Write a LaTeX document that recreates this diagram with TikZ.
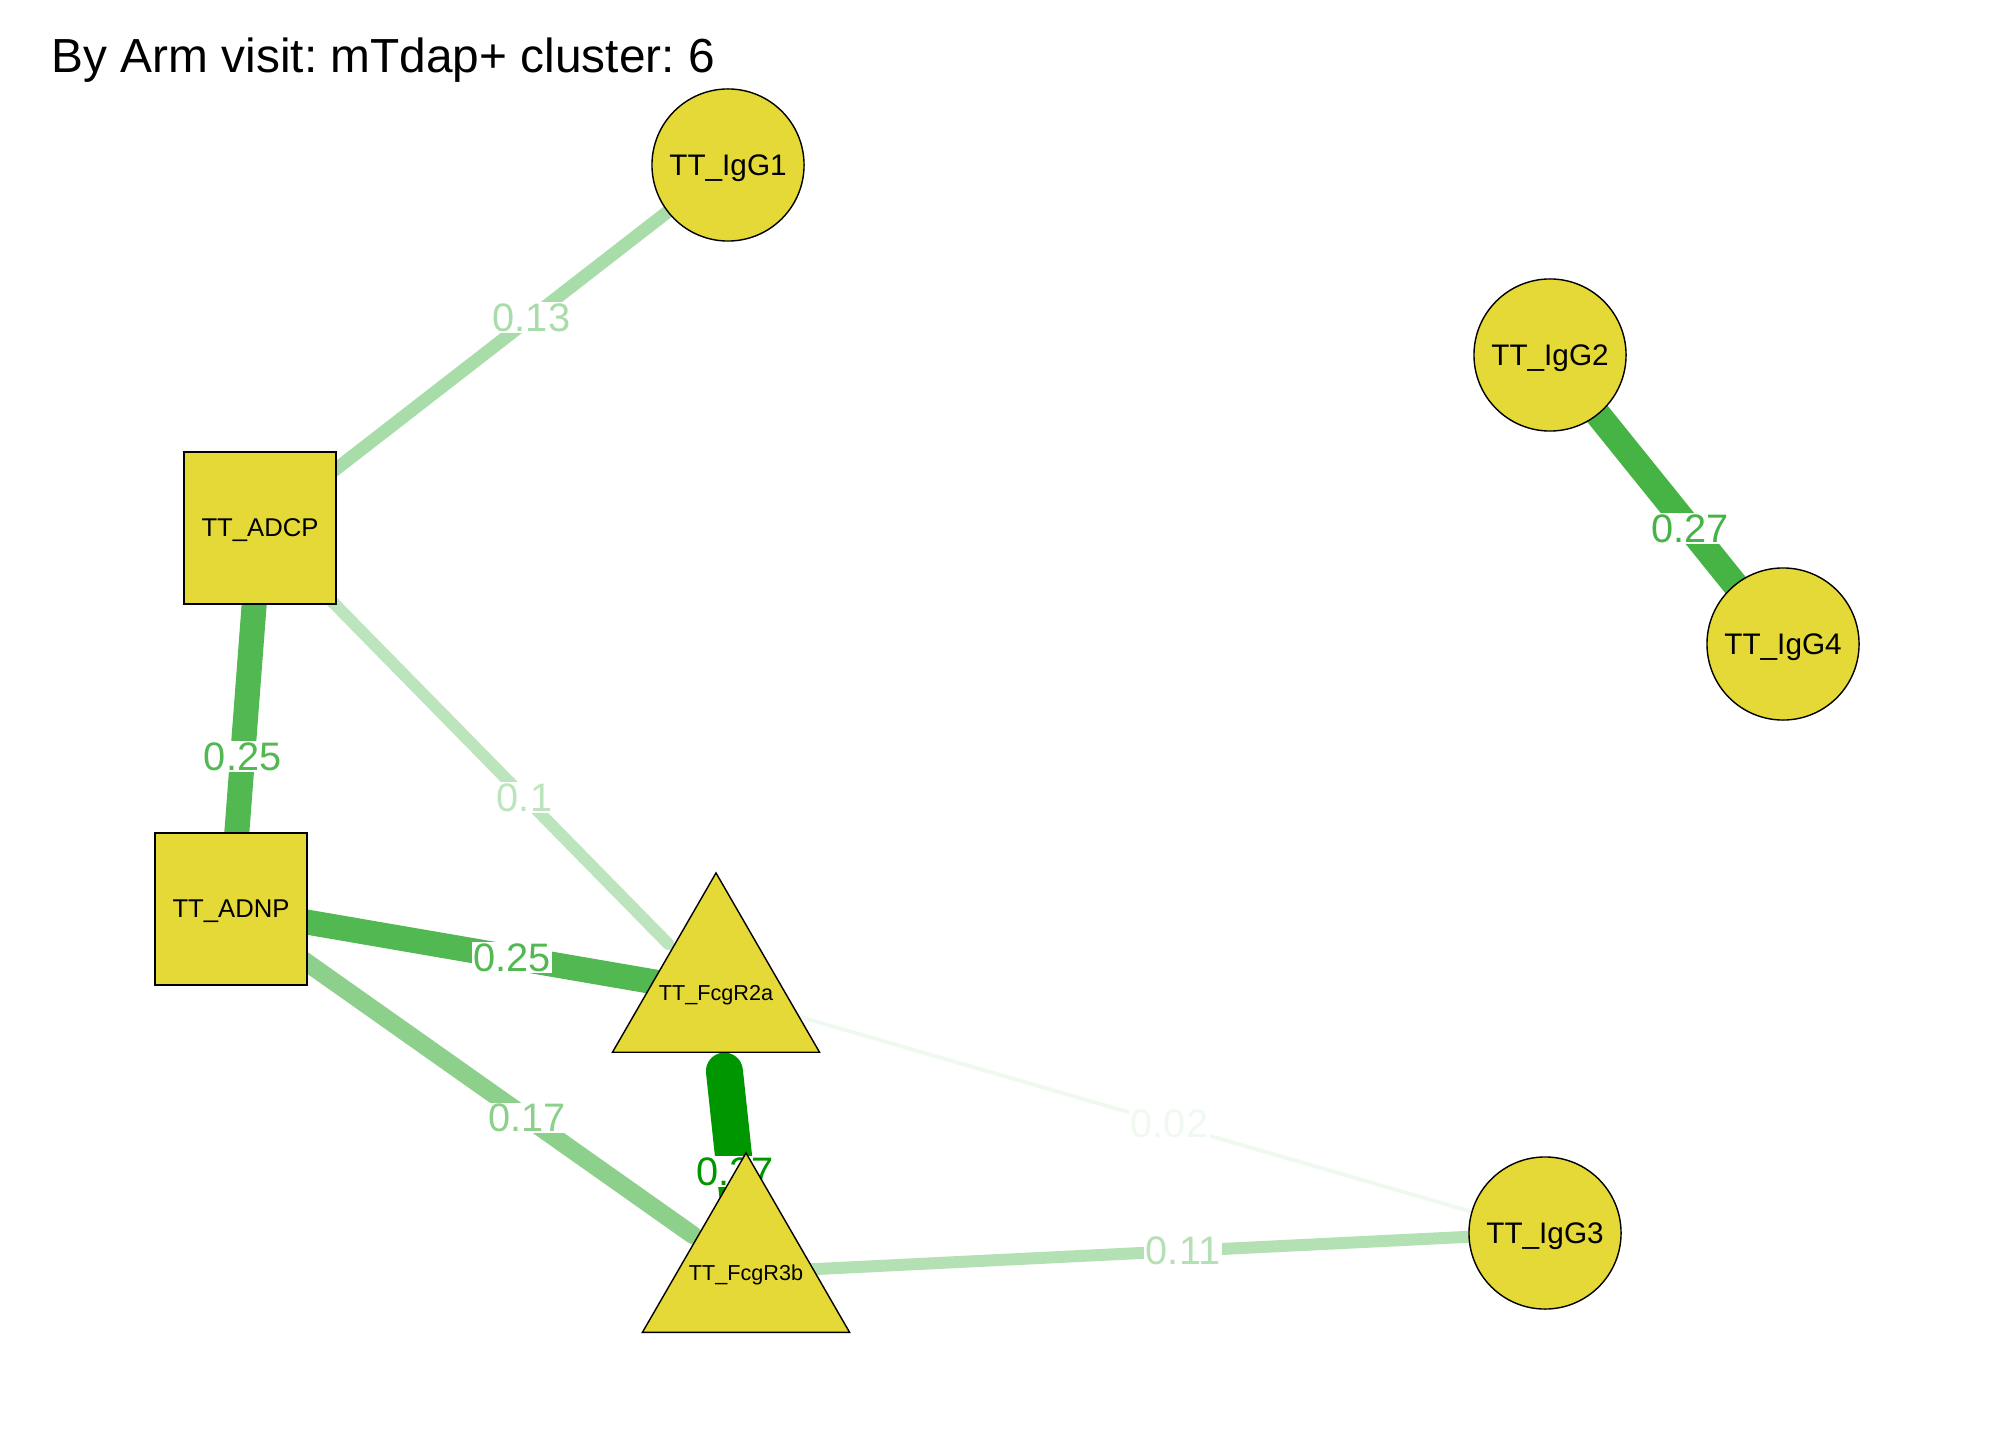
\documentclass[tikz,border=0pt]{standalone}
\usepackage{fontspec}
\setmainfont{Liberation Sans}
\usepackage{xcolor}
\usepackage{tikz}
\usetikzlibrary{shapes.geometric,backgrounds}
\definecolor{nodeYellow}{HTML}{E4D936}
\definecolor{greenDeep}{HTML}{009600}
\definecolor{greenStrong}{HTML}{45B445}
\definecolor{greenMid}{HTML}{52B952}
\definecolor{greenSoft}{HTML}{8CD08C}
\definecolor{greenPale}{HTML}{A8DCA8}
\definecolor{greenPaler}{HTML}{B3E1B3}
\definecolor{greenFaint}{HTML}{BDE5BD}
\definecolor{greenGhost}{HTML}{F0F9F0}
\frenchspacing

\begin{document}
\begin{tikzpicture}[x=0.01cm,y=-0.01cm,
    circNode/.style={circle,draw,fill=nodeYellow,minimum size=1.52cm,inner sep=0pt,text depth=0pt,font=\fontsize{8.45}{10}\selectfont},
    sqNode/.style={rectangle,draw,fill=nodeYellow,minimum size=1.52cm,inner sep=0pt,text depth=0pt,font=\fontsize{7.3}{9}\selectfont},
    triNode/.style={regular polygon,regular polygon sides=3,draw,fill=nodeYellow,minimum size=2.39cm,inner sep=0pt,
        label={[inner sep=0pt,text depth=0pt,font=\fontsize{6.15}{8}\selectfont]center:#1}},
    wLabel/.style={fill=white,inner sep=0.4pt,font=\fontsize{11.3}{13}\selectfont}]
        \useasboundingbox (0,0) rectangle (2016,1440);
        \node[anchor=base west,inner sep=0pt,font=\fontsize{13.6}{16}\selectfont] (ttl) at (51,73) {By Arm visit: mTdap+ cluster: 6};
        % vertices
        \node[circNode] (igg1) at (728,165) {TT\_IgG1};
        \node[circNode] (igg2) at (1550,355) {TT\_IgG2};
        \node[circNode] (igg4) at (1783,644) {TT\_IgG4};
        \node[circNode] (igg3) at (1545,1233) {TT\_IgG3};
        \node[sqNode] (adcp) at (260,528) {TT\_ADCP};
        \node[sqNode] (adnp) at (231,909) {TT\_ADNP};
        \node[triNode={TT\_FcgR2a}] (fcgr2a) at (716,992.5) {};
        \node[triNode={TT\_FcgR3b}] (fcgr3b) at (746,1272.5) {};
        % edges, weight as width; ends cut back like the R plot
        \begin{scope}[on background layer]
            \foreach \a/\b/\v/\c/\w/\p/\sa/\sb in {igg1/adcp/0.13/greenPale/13/0.42/0.76/0.76,
                adcp/adnp/0.25/greenMid/25/0.6/0.76/0.76,
                adcp/fcgr2a/0.1/greenFaint/12/0.58/0.76/0.68,
                adnp/fcgr2a/0.25/greenMid/25/0.58/0.76/0.60,
                adnp/fcgr3b/0.17/greenSoft/18/0.575/0.76/0.65,
                fcgr2a/fcgr3b/0.27/greenDeep/37/0.64/0.79/0.79,
                fcgr2a/igg3/0.02/greenGhost/4/0.547/0.61/0.76,
                fcgr3b/igg3/0.11/greenPaler/12/0.547/0.60/0.76,
                igg2/igg4/0.27/greenStrong/26/0.6/0.76/0.76}
                \draw[draw=\c, line width=\w*0.01cm, line cap=round, shorten <=\sa cm, shorten >=\sb cm]
                    (\a.center) -- node[wLabel, text=\c, pos=\p] {\v} (\b.center);
        \end{scope}
    \end{tikzpicture}
\end{document}
